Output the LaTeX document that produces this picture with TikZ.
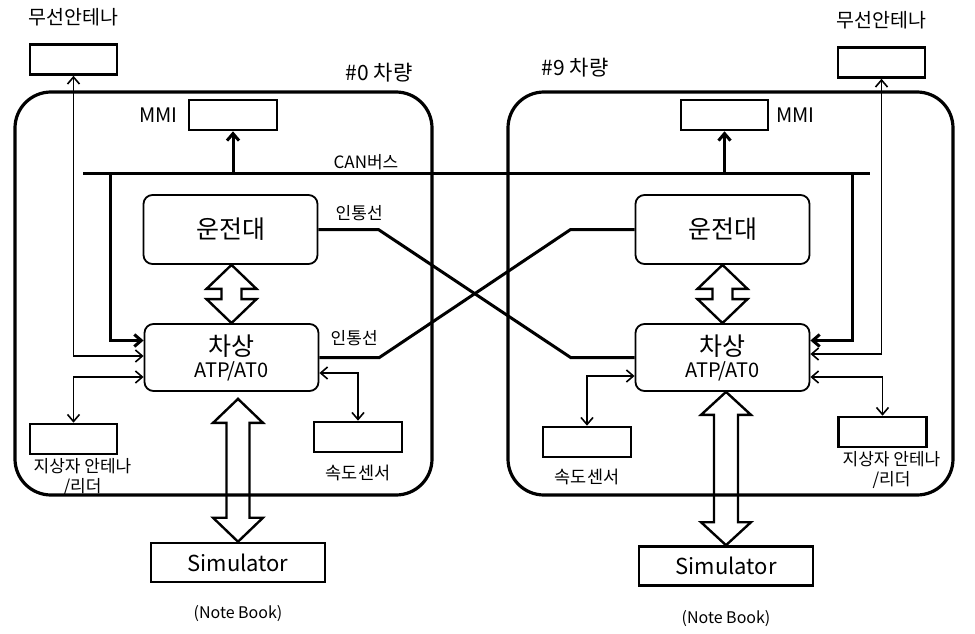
\documentclass[tikz,border=0pt]{standalone}
\usepackage{fontspec}
\setmainfont{Noto Sans CJK KR}
\usetikzlibrary{arrows.meta, positioning, calc}
\newcommand{\fsz}[1]{\fontsize{#1}{#1}\selectfont}
\newcommand{\fatarrow}[4]{\draw[fat] let \p1=(#1), \p2=(#2) in
  (\x2,\y1) -- (\x2+25pt,\y1-#4) -- (\x2+#3,\y1-#4) -- (\x2+#3,\y2+#4) -- (\x2+25pt,\y2+#4)
  -- (\x2,\y2) -- (\x2-25pt,\y2+#4) -- (\x2-#3,\y2+#4) -- (\x2-#3,\y1-#4) -- (\x2-25pt,\y1-#4) -- cycle;}
\tikzset{frame/.style={line width=3.2pt, rounded corners=36pt}}
\tikzset{box/.style={draw, line width=2.6pt, inner sep=0pt, minimum width=87pt, minimum height=30pt}}
\tikzset{unit/.style={draw, line width=1.8pt, rounded corners=9pt, inner sep=0pt, minimum width=174pt, font=\fsz{25}, align=center}}
\tikzset{lbl/.style={inner sep=0pt, font=\fsz{17}, align=center}}
\tikzset{bus/.style={line width=3pt}, sig/.style={line width=1.6pt}, link/.style={line width=3pt}}
\tikzset{fat/.style={line width=2.4pt, line join=miter}}
\tikzset{>={Straight Barb[length=7pt, width=12pt]}}

\begin{document}
\begin{tikzpicture}[x=1pt, y=-1pt]
  \useasboundingbox (0,0) rectangle (975,634);

  % --- car #0 ---
  \begin{scope}
    \draw[frame] (15,92) rectangle (432,495);
    \node[lbl, font=\fsz{21}] (carlbl0) at (379,73) {\#0 차량};

    \node[box] (ant0) at (73.5,59.5) {};
    \node[lbl, font=\fsz{19.5}, above=17pt of ant0] (antlbl0) {무선안테나};
    \node[box, minimum width=88pt] (mmi0) at (233,115) {};
    \node[lbl, font=\fsz{20}, left=10pt of mmi0] (mmilbl0) {MMI};

    \node[unit, minimum height=69pt] (drv0) at (230.5,229.5) {운전대};
    \node[unit, minimum height=67pt] (atp0) at (231.5,357.5) {차상\\[-3pt]{\fsz{20}ATP/AT0}};

    \node[box] (tag0) at (73.5,439) {};
    \node[lbl, below=3pt of tag0, xshift=9pt] (taglbl0) {지상자 안테나\\[3pt]/리더};
    \node[box, minimum width=88pt] (spd0) at (358,437) {};
    \node[lbl, font=\fsz{17.5}, below=12pt of spd0] (spdlbl0) {속도센서};

    \node[box, minimum width=174pt, minimum height=39pt, font=\fsz{22}] (sim0) at (238,562.5) {Simulator};
    \node[lbl, font=\fsz{16}, below=22pt of sim0] (nblbl0) {(Note Book)};

    \coordinate (tap0) at (110,173);
    \draw[bus, ->] (tap0) |- ([yshift=17pt]atp0.west);
    \draw[sig, <->] (ant0.south) |- ([yshift=1.5pt]atp0.west);
    \draw[sig, <->] ([yshift=-19.5pt]atp0.west) -| (tag0.north);
    \draw[sig, <->] ([yshift=-15.5pt]atp0.east) -| (spd0.north);

    \fatarrow{drv0.south}{atp0.north}{10pt}{24pt}
    \fatarrow{[yshift=-7pt]atp0.south}{sim0.north}{11.5pt}{24pt}
  \end{scope}

  % --- car #9 ---
  \begin{scope}
    \draw[frame] (508,92) rectangle (953,495);
    \node[lbl, font=\fsz{21}] (carlbl9) at (575,68) {\#9 차량};

    \node[box] (ant9) at (881.5,62.5) {};
    \node[lbl, font=\fsz{19.5}, above=17pt of ant9] (antlbl9) {무선안테나};
    \node[box] (mmi9) at (724.5,115) {};
    \node[lbl, font=\fsz{20}, right=7pt of mmi9] (mmilbl9) {MMI};

    \node[unit, minimum height=69pt] (drv9) at (722.5,229.5) {운전대};
    \node[unit, minimum height=67pt] (atp9) at (722.5,357.5) {차상\\[-3pt]{\fsz{20}ATP/AT0}};

    \node[box, minimum width=88pt] (tag9) at (882.5,432) {};
    \node[lbl, below=3pt of tag9, xshift=9pt] (taglbl9) {지상자 안테나\\[3pt]/리더};
    \node[box, minimum width=88pt] (spd9) at (587,442) {};
    \node[lbl, font=\fsz{17.5}, below=11pt of spd9] (spdlbl9) {속도센서};

    \node[box, minimum width=174pt, minimum height=39pt, font=\fsz{22}] (sim9) at (726,566) {Simulator};
    \node[lbl, font=\fsz{16}, below=23pt of sim9] (nblbl9) {(Note Book)};

    \coordinate (tap9) at (852,173);
    \draw[bus, ->] (tap9) |- ([yshift=17pt]atp9.east);
    \draw[sig, <->] (ant9.south) |- ([yshift=3.5pt]atp9.east);
    \draw[sig, <->] ([yshift=-19.5pt]atp9.east) -| (tag9.north);
    \draw[sig, <->] ([yshift=-18.5pt]atp9.west) -| (spd9.north);

    \fatarrow{drv9.south}{atp9.north}{10pt}{24pt}
    \fatarrow{atp9.south}{sim9.north}{12pt}{23pt}
  \end{scope}

  % --- CAN bus ---
  \coordinate (busW) at (83,173);
  \coordinate (busE) at (870,173);
  \draw[bus] (busW) -- (busE);
  \node[lbl] (canlbl) at (366,162) {CAN버스};
  \draw[bus, ->] (mmi0.south |- busW) -- (mmi0.south);
  \draw[bus, ->] (mmi9.south |- busW) -- (mmi9.south);

  % --- 인통선 ---
  \draw[link] (drv0.east) -- node[lbl, above=7pt, pos=0.68] (linklbl0) {인통선} ++(60,0)
              -- ($(atp9.west)+(-64,0)$) -- (atp9.west);
  \draw[link] (atp0.east) -- node[lbl, above=10pt, pos=0.58] (linklbl9) {인통선} ++(60,0)
              -- ($(drv9.west)+(-64,0)$) -- (drv9.west);
\end{tikzpicture}
\end{document}
